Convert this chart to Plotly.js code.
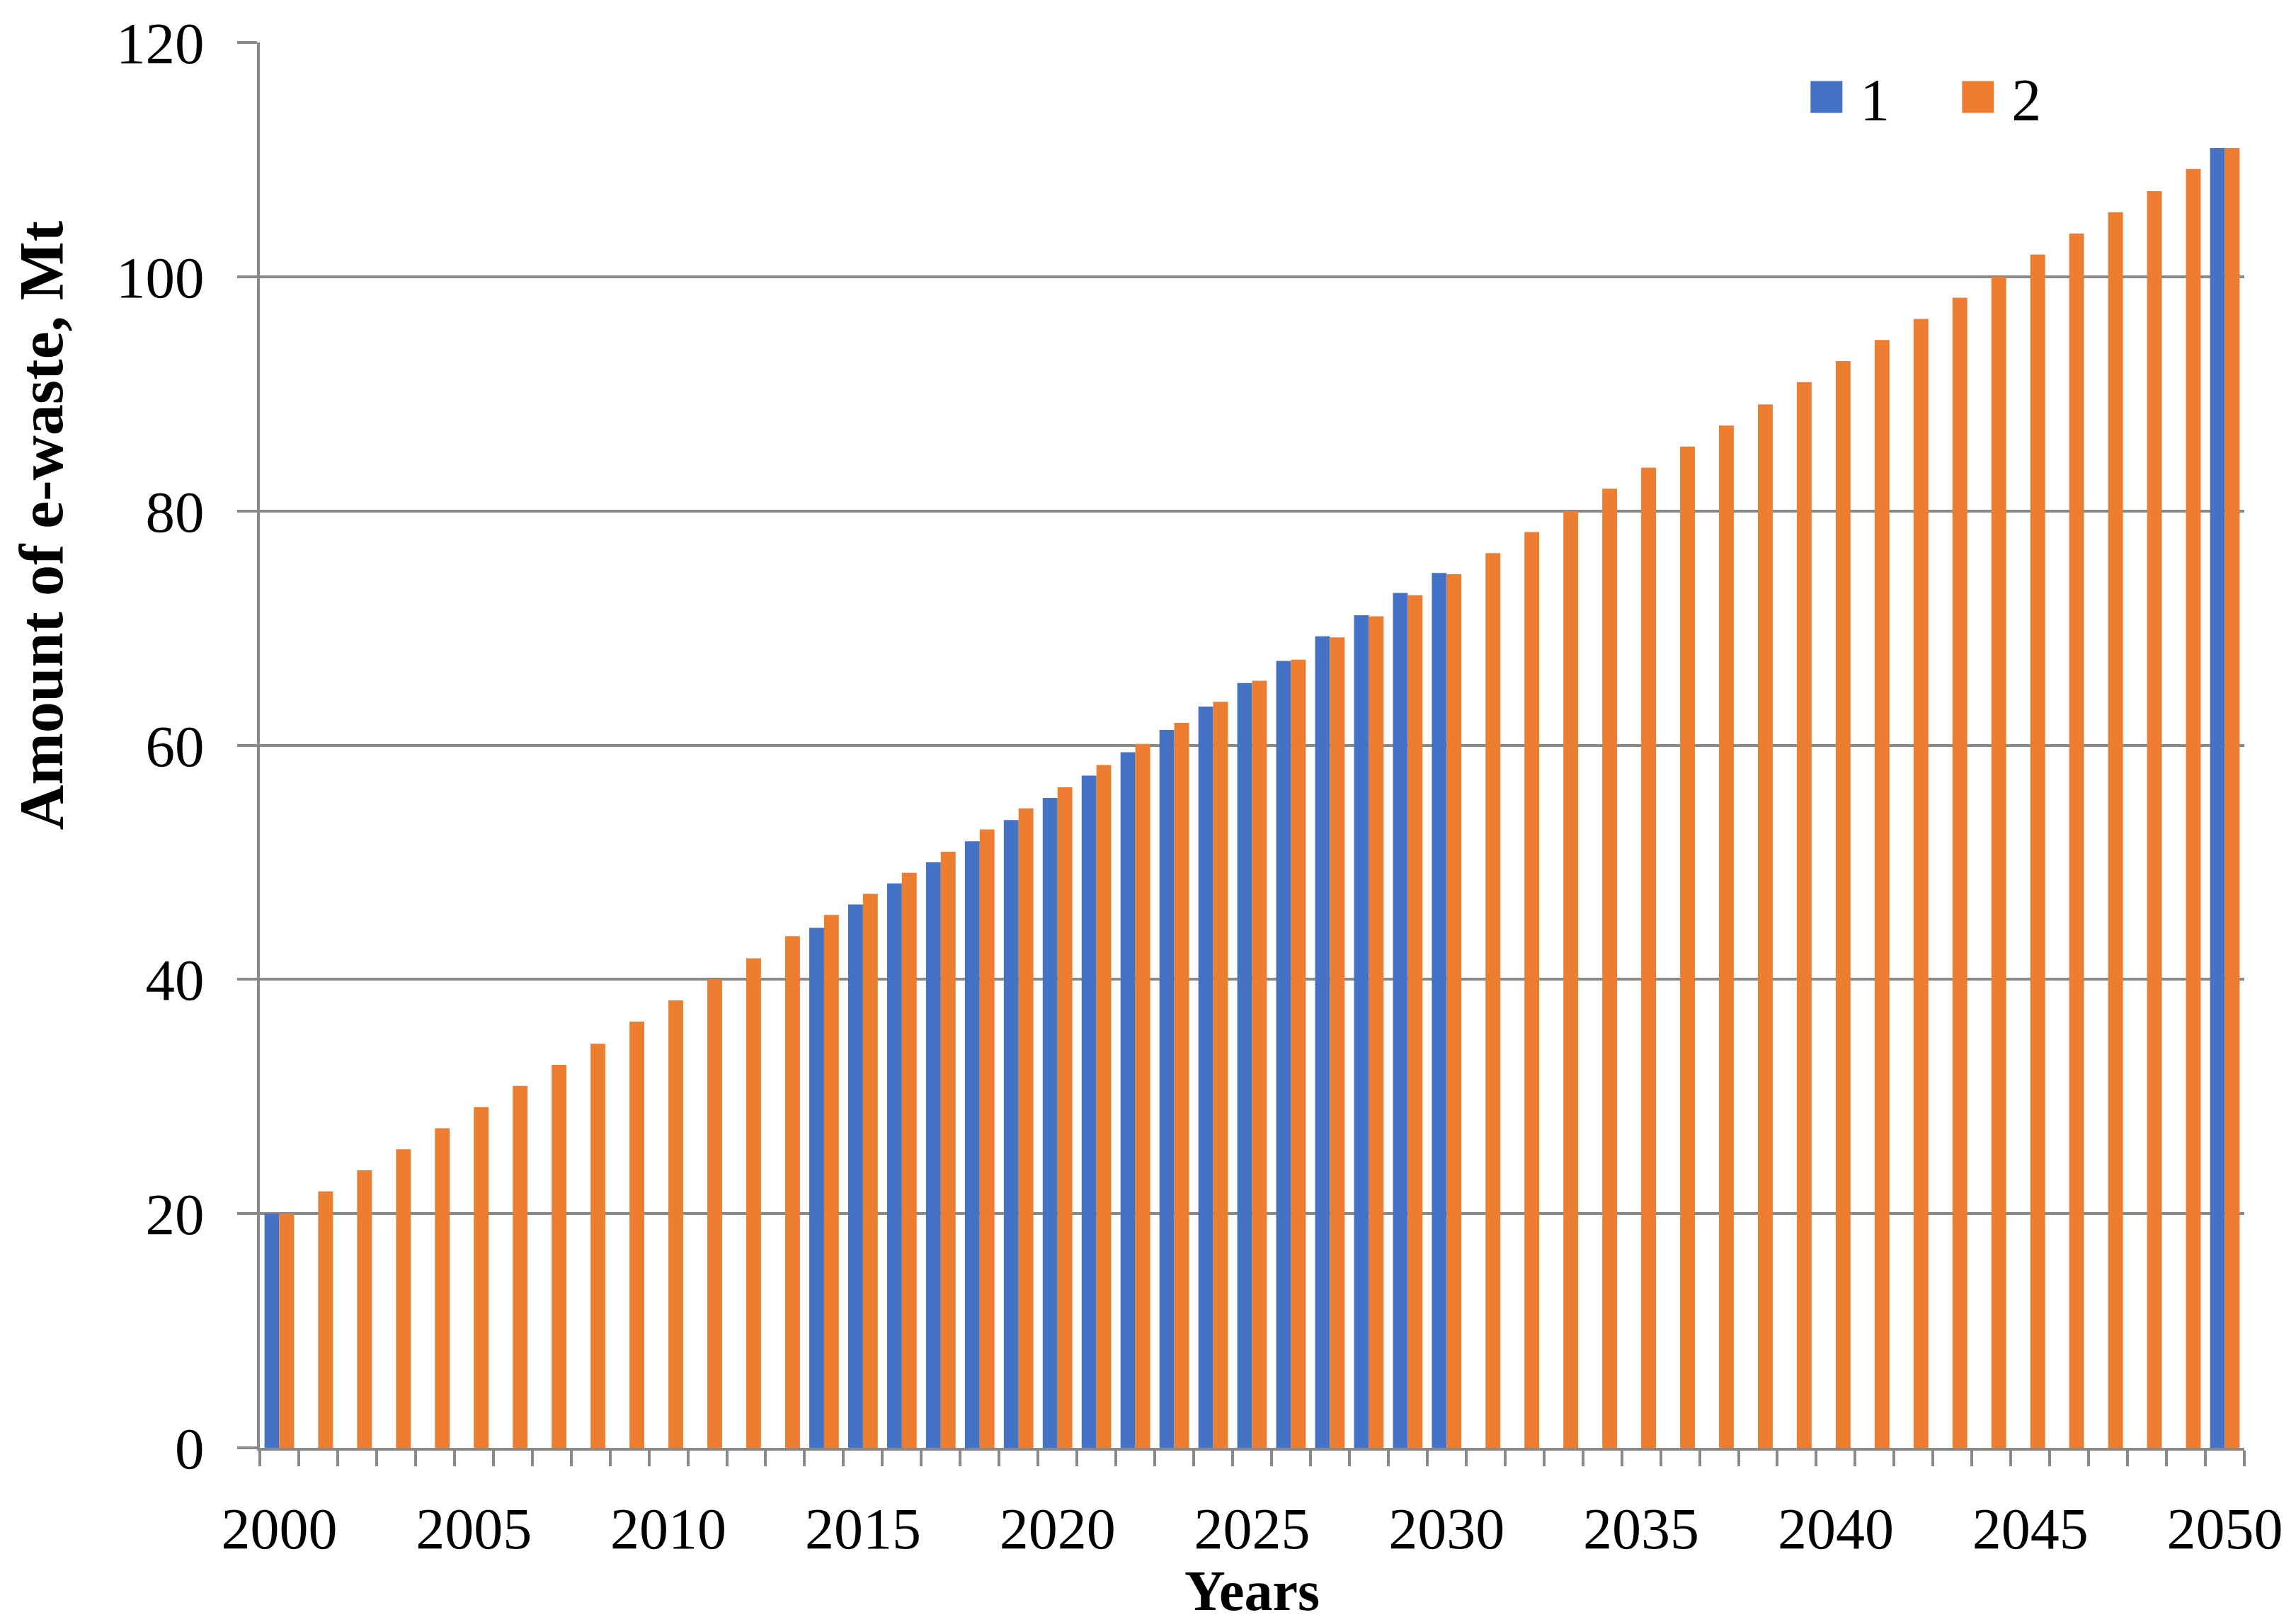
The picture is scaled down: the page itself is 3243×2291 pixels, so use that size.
<!DOCTYPE html>
<html>
<head>
<meta charset="utf-8">
<script src="https://cdn.plot.ly/plotly-3.0.1.min.js"></script>
<style>
html, body { margin: 0; padding: 0; background: #ffffff; }
#chart { width: 3243px; height: 2291px; }
</style>
</head>
<body>
<div id="chart"></div>
<script>
// Years (categories)
const years = [2000,2001,2002,2003,2004,2005,2006,2007,2008,2009,
  2010,2011,2012,2013,2014,2015,2016,2017,2018,2019,
  2020,2021,2022,2023,2024,2025,2026,2027,2028,2029,
  2030,2031,2032,2033,2034,2035,2036,2037,2038,2039,
  2040,2041,2042,2043,2044,2045,2046,2047,2048,2049,2050];

// Series 1 (blue) – only some years have values
const series1 = [20.0,null,null,null,null,null,null,null,null,null,
  null,null,null,null,44.4,46.4,48.2,50.0,51.8,53.6,
  55.5,57.4,59.4,61.3,63.3,65.3,67.2,69.3,71.1,73.0,
  74.7,null,null,null,null,null,null,null,null,null,
  null,null,null,null,null,null,null,null,null,null,111.0];

// Series 2 (orange)
const series2 = [20.0,21.9,23.7,25.5,27.3,29.1,30.9,32.7,34.5,36.4,
  38.2,40.0,41.8,43.7,45.5,47.3,49.1,50.9,52.8,54.6,
  56.4,58.3,60.1,61.9,63.7,65.5,67.3,69.2,71.0,72.8,
  74.6,76.4,78.2,80.0,81.9,83.7,85.5,87.3,89.1,91.0,
  92.8,94.6,96.4,98.2,100.0,101.9,103.7,105.5,107.3,109.2,111.0];

const seriesNames = ['1', '2'];
const xTickVals = [2000,2005,2010,2015,2020,2025,2030,2035,2040,2045,2050];
const xTickText = ['2000','2005','2010','2015','2020','2025','2030','2035','2040','2045','2050'];
const yTickVals = [0,20,40,60,80,100,120];

const GRAY = '#898989';
const FONT = 'Liberation Serif, Times New Roman, serif';

const data = [
  { type: 'bar', name: seriesNames[0], x: years, y: series1,
    marker: { color: '#4472C4', line: { width: 0 } } },
  { type: 'bar', name: seriesNames[1], x: years, y: series2,
    marker: { color: '#ED7D31', line: { width: 0 } } }
];

const layout = {
  width: 3243, height: 2291,
  margin: { l: 367, r: 73, t: 60, b: 246, pad: 0 },
  paper_bgcolor: '#ffffff', plot_bgcolor: '#ffffff',
  font: { family: FONT, size: 83, color: '#000000' },
  barmode: 'group', bargap: 0.24, bargroupgap: 0,
  showlegend: true,
  legend: {
    orientation: 'h', x: 0.7725, y: 0.961, xanchor: 'left', yanchor: 'middle',
    font: { family: FONT, size: 84, color: '#000000' },
    itemwidth: 85, entrywidth: 114, entrywidthmode: 'pixels',
    bgcolor: 'rgba(0,0,0,0)', borderwidth: 0, traceorder: 'normal'
  },
  xaxis: {
    type: 'linear', range: [1999.5, 2050.5],
    tickmode: 'array', tickvals: xTickVals, ticktext: xTickText,
    ticks: '', showgrid: false, zeroline: false,
    showline: true, linecolor: GRAY, linewidth: 4,
    tickfont: { family: FONT, size: 82, color: '#000000' },
    ticklabelstandoff: 40,
    minor: { tickmode: 'linear', tick0: 1999.5, dtick: 1, ticks: 'outside',
             ticklen: 22, tickwidth: 4, tickcolor: GRAY, showgrid: false },
    title: { text: '<b>Years</b>', font: { family: FONT, size: 80, color: '#000000' }, standoff: 14 }
  },
  yaxis: {
    range: [0, 120], tickmode: 'array', tickvals: yTickVals,
    showgrid: true, gridcolor: GRAY, gridwidth: 4, zeroline: false,
    showline: true, linecolor: GRAY, linewidth: 4,
    ticks: 'outside', ticklen: 28, tickwidth: 4, tickcolor: GRAY,
    tickfont: { family: FONT, size: 83, color: '#000000' },
    ticklabelstandoff: 30
  },
  annotations: [{
    text: '<b>Amount of e-waste, Mt</b>', xref: 'paper', yref: 'paper',
    x: -0.1102, y: 0.6564, xanchor: 'center', yanchor: 'middle',
    textangle: -90, showarrow: false,
    font: { family: FONT, size: 88, color: '#000000' }
  }]
};

const gd = document.getElementById('chart');
Plotly.newPlot(gd, data, layout, { staticPlot: true, displayModeBar: false }).then(() => {
  gd.querySelectorAll('.legend .traces .legendpoints path').forEach(p => {
    p.setAttribute('d', 'M22.5,22.5H-22.5V-22.5H22.5Z');
  });
});
</script>
</body>
</html>
